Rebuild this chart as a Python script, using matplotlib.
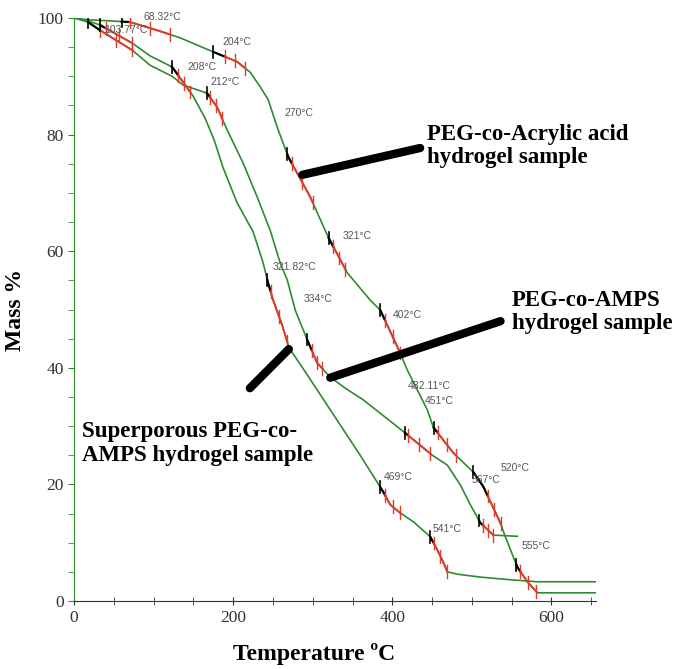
"""
TGA curves of three hydrogel samples (mass % vs temperature).
"""

import numpy as np
import matplotlib
matplotlib.use("Agg")
import matplotlib.pyplot as plt

# PEG-co-Acrylic acid hydrogel
acrylic_temp = [0, 17.6, 32.7, 70.4, 104.4, 133.3, 174.8, 205.0, 221.4, 234.0, 244.0,
                256.6, 269.2, 296.9, 319.5, 343.4, 372.3, 384.9, 410.1, 418.9, 444.0,
                451.6, 476.7, 501.9, 514.5, 535.8, 542.1, 557.2, 569.8, 582.4, 655]
acrylic_mass = [100, 99.7, 99.6, 99.3, 97.9, 96.6, 94.2, 92.5, 90.7, 88.2, 86.0,
                80.8, 76.2, 69.3, 62.4, 56.3, 51.6, 49.9, 42.5, 39.6, 32.8,
                29.8, 25.4, 22.1, 19.6, 13.4, 11.0, 5.8, 3.3, 1.4, 1.4]

# PEG-co-AMPS hydrogel
amps_temp = [0, 17.6, 32.7, 73.0, 95.6, 123.3, 137.1, 152.2, 167.3, 179.9, 192.5,
             212.6, 230.2, 246.5, 259.1, 267.9, 278.0, 293.1, 305.7, 322.0, 340.9,
             363.5, 384.9, 416.4, 450.3, 469.2, 485.5, 498.1, 510.7, 527.0, 557.2]
amps_mass = [100, 99.3, 97.9, 94.5, 91.9, 90.0, 88.5, 87.8, 87.1, 84.7, 80.8,
             75.1, 69.3, 63.6, 58.0, 55.1, 49.9, 44.8, 40.8, 38.4, 36.5,
             34.5, 32.2, 28.8, 25.0, 23.3, 19.9, 16.5, 13.4, 11.3, 11.1]

# Superporous PEG-co-AMPS hydrogel
super_temp = [0, 17.6, 32.7, 73.0, 95.6, 123.3, 137.1, 149.7, 164.8, 176.1, 187.4,
              205.0, 225.2, 237.7, 244.0, 250.3, 261.6, 270.4, 293.1, 322.0, 359.7,
              388.7, 397.5, 410.1, 426.4, 447.8, 455.3, 462.9, 469.2, 481.8, 510.7,
              552.2, 582.4, 655]
super_mass = [100, 99.5, 98.8, 95.7, 93.5, 91.6, 89.0, 86.6, 82.8, 79.1, 74.3,
              68.3, 63.3, 58.0, 54.5, 51.6, 47.3, 43.4, 38.8, 32.8, 25.0,
              18.7, 16.5, 15.1, 13.6, 11.0, 9.1, 7.0, 5.0, 4.6, 4.1,
              3.6, 3.3, 3.3]

# analysis marks on each curve: (onset, red start, red end) in degC
acrylic_marks = [(60, 70, 121), (175, 190, 215), (268, 274, 300), (320, 326, 341),
                 (385, 391, 410), (452, 457, 480), (502, 520, 536), (556, 561, 581)]
amps_marks = [(18, 33, 73), (167, 171, 186), (293, 299, 312), (416, 420, 448),
              (509, 514, 527)]
super_marks = [(33, 40, 73), (123, 131, 146), (243, 247, 268), (385, 391, 410),
               (448, 452, 469)]

# instrument temperature labels
temp_labels = ["68.32°C", "103.77°C", "204°C", "208°C", "212°C", "270°C", "321°C",
               "321.82°C", "334°C", "402°C", "482.11°C", "451°C", "469°C", "541°C",
               "567°C", "520°C", "555°C"]
temp_label_pos = [(87, 100.2), (38, 98.0), (187, 95.9), (142, 91.6), (171, 89.0),
                  (265, 83.7), (337, 62.6), (250, 57.3), (288, 51.8), (400, 49.0),
                  (419, 36.9), (441, 34.3), (389, 21.3), (451, 12.3), (500, 20.8),
                  (536, 22.8), (563, 9.4)]

GREEN = "#2e8b2e"
RED = "#e03a2a"

fig = plt.figure(figsize=(6.87, 6.69), dpi=100)
ax = fig.add_axes([74 / 687, 1 - 601 / 669, 522 / 687, 583 / 669])

curves = [(acrylic_temp, acrylic_mass, acrylic_marks),
          (amps_temp, amps_mass, amps_marks),
          (super_temp, super_mass, super_marks)]

for t, m, marks in curves:
    t = np.array(t)
    m = np.array(m)
    ax.plot(t, m, color=GREEN, lw=1.2, zorder=2)
    for xb, x1, x2 in marks:
        # black onset piece
        xs = np.linspace(xb, x1, 10)
        ax.plot(xs, np.interp(xs, t, m), color="black", lw=1.6, zorder=3)
        yb = np.interp(xb, t, m)
        ax.plot([xb, xb], [yb - 1.0, yb + 1.0], color="black", lw=1.2, zorder=3)
        # red step piece
        xs = np.linspace(x1, x2, 20)
        ax.plot(xs, np.interp(xs, t, m), color=RED, lw=1.4, zorder=3)
        for xr in (x1, (x1 + x2) / 2, x2):
            yr = np.interp(xr, t, m)
            ax.plot([xr, xr], [yr - 1.1, yr + 1.1], color=RED, lw=1.0, zorder=3)

for txt, (x, y) in zip(temp_labels, temp_label_pos):
    ax.text(x, y, txt, fontsize=7.5, color="#555555", family="Liberation Sans",
            ha="left", va="center", zorder=4)

# pointer lines
ax.plot([287, 435], [73.1, 77.7], color="black", lw=6, solid_capstyle="round", zorder=5)
ax.plot([322, 536], [38.3, 48.0], color="black", lw=6, solid_capstyle="round", zorder=5)
ax.plot([221, 270], [36.5, 43.2], color="black", lw=6, solid_capstyle="round", zorder=5)

serif = "Liberation Serif"
fig.text(427 / 687, 1 - 146 / 669, "PEG-co-Acrylic acid\nhydrogel sample",
         family=serif, fontweight="bold", fontsize=16.5, ha="left", va="center",
         linespacing=1.15)
fig.text(512 / 687, 1 - 312 / 669, "PEG-co-AMPS\nhydrogel sample",
         family=serif, fontweight="bold", fontsize=16.5, ha="left", va="center",
         linespacing=1.15)
fig.text(82 / 687, 1 - 443.5 / 669, "Superporous PEG-co-\nAMPS hydrogel sample",
         family=serif, fontweight="bold", fontsize=16.5, ha="left", va="center",
         linespacing=1.2)

ax.set_xlim(0, 656)
ax.set_ylim(0, 100)
ax.set_xticks([0, 200, 400, 600])
ax.set_xticks(np.arange(0, 656, 50), minor=True)
ax.set_yticks([0, 20, 40, 60, 80, 100])
ax.set_yticks(np.arange(0, 101, 5), minor=True)

for side in ("top", "right"):
    ax.spines[side].set_visible(False)
ax.spines["left"].set_color(GREEN)
ax.spines["bottom"].set_color("#333333")

ax.tick_params(axis="y", which="both", direction="out", colors="#333333",
               labelsize=12.5, length=4)
ax.tick_params(axis="y", which="both", color=GREEN)
ax.tick_params(axis="x", which="both", direction="inout", colors="#333333",
               labelsize=12.5, length=6)
for lbl in ax.get_xticklabels() + ax.get_yticklabels():
    lbl.set_family(serif)

ax.set_xlabel("Temperature ºC", family=serif, fontweight="bold", fontsize=17)
ax.xaxis.set_label_coords(0.46, -0.072)
ax.set_ylabel("Mass %", family=serif, fontweight="bold", fontsize=17, labelpad=8)

fig.savefig("out.png", dpi=100)
